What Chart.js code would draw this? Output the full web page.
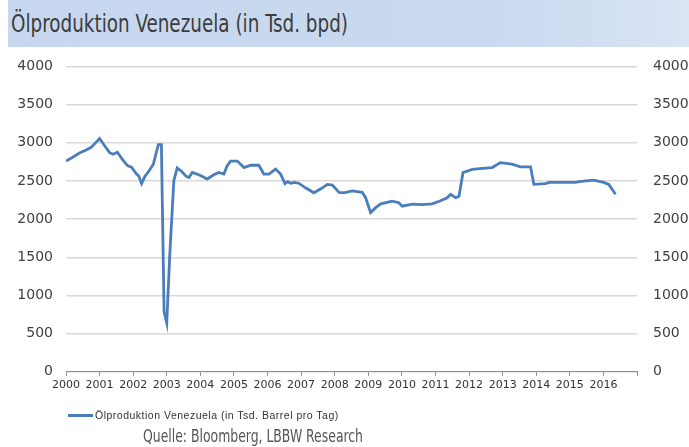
<!DOCTYPE html>
<html>
<head>
<meta charset="utf-8">
<script src="https://cdn.jsdelivr.net/npm/chart.js@4"></script>
<style>
  body { margin: 0; background: #fff; }
  #wrap { position: relative; width: 689px; height: 447px; overflow: hidden; }
  #chartBox { position: absolute; left: 0; top: 42px; width: 689px; height: 405px; }
  #title {
    position: absolute; left: 8px; top: 0; width: 681px; height: 47px;
    background: linear-gradient(to right, #c7d7ef 0%, #c9d9f0 70%, #d9e4f4 100%);
  }
  #titleText {
    position: absolute; left: 3px; top: 9px; white-space: nowrap; transform-origin: 0 0;
    font-family: "DejaVu Sans Condensed", "DejaVu Sans", sans-serif;
    font-size: 25px; color: #3c3c3c;
  }
  #legend {
    position: absolute; left: 68px; top: 408px; height: 14px;
    font-family: "Liberation Sans", Arial, sans-serif; font-size: 10.5px; letter-spacing: 0.5px; color: #333;
    display: flex; align-items: center; white-space: nowrap;
  }
  #legend span.line { display: inline-block; width: 25px; height: 3px; background: #4a7ebb; margin-right: 2px; }
  #source {
    position: absolute; left: 143px; top: 426px; white-space: nowrap; transform-origin: 0 0;
    font-family: "DejaVu Sans Condensed", "DejaVu Sans", sans-serif;
    font-size: 17px; color: #555;
  }
</style>
</head>
<body>
<div id="wrap">
  <div id="chartBox"><canvas id="oilChart"></canvas></div>
  <div id="title"><span id="titleText">Ölproduktion Venezuela (in Tsd. bpd)</span></div>
  <div id="legend"><span class="line"></span>Ölproduktion Venezuela (in Tsd. Barrel pro Tag)</div>
  <div id="source">Quelle: Bloomberg, LBBW Research</div>
</div>
<script>
// time in decimal years, production in thousand barrels per day
const years = [
  2000.00, 2000.20, 2000.40, 2000.60, 2000.75, 2000.85, 2001.00, 2001.15, 2001.30, 2001.40,
  2001.53, 2001.70, 2001.83, 2001.95, 2002.10, 2002.17, 2002.25, 2002.35, 2002.47, 2002.60,
  2002.75, 2002.84, 2002.92, 2003.00, 2003.09, 2003.21, 2003.31, 2003.45, 2003.58, 2003.66,
  2003.76, 2003.90, 2004.05, 2004.20, 2004.40, 2004.55, 2004.70, 2004.80, 2004.90, 2005.10,
  2005.30, 2005.50, 2005.74, 2005.89, 2006.04, 2006.24, 2006.39, 2006.52, 2006.60, 2006.69,
  2006.80, 2006.93, 2007.13, 2007.38, 2007.60, 2007.78, 2007.93, 2008.13, 2008.27, 2008.52,
  2008.82, 2008.92, 2009.07, 2009.22, 2009.37, 2009.71, 2009.91, 2010.01, 2010.31, 2010.60,
  2010.90, 2011.15, 2011.35, 2011.45, 2011.60, 2011.70, 2011.82, 2012.10, 2012.40, 2012.69,
  2012.93, 2013.28, 2013.53, 2013.83, 2013.93, 2014.28, 2014.38, 2015.17, 2015.27, 2015.71,
  2016.01, 2016.16, 2016.36
];
const production = [
  2760, 2810, 2865, 2905, 2940, 2985, 3055, 2960, 2870, 2850,
  2875, 2770, 2700, 2680, 2590, 2560, 2465, 2560, 2630, 2720,
  2975, 2975, 790, 640, 1540, 2500, 2670, 2620, 2560, 2545,
  2610, 2590, 2560, 2525, 2580, 2610, 2590, 2700, 2760, 2760,
  2675, 2705, 2705, 2590, 2590, 2655, 2590, 2465, 2490, 2470,
  2480, 2470, 2410, 2345, 2400, 2455, 2445, 2350, 2345, 2370,
  2350, 2280, 2085, 2150, 2200, 2235, 2215, 2170, 2195, 2190,
  2200, 2240, 2280, 2325, 2280, 2300, 2610, 2650, 2665, 2675,
  2740, 2720, 2685, 2685, 2455, 2465, 2480, 2480, 2490, 2510,
  2480, 2455, 2325
];
const seriesLabel = 'Ölproduktion Venezuela (in Tsd. Barrel pro Tag)';
const yTicks = [0, 500, 1000, 1500, 2000, 2500, 3000, 3500, 4000];
const xFirstYear = 2000, xLastYear = 2017;

// squeeze a text element to a target width (the original uses a narrow font)
function fitWidth(el, px) {
  const w = el.getBoundingClientRect().width;
  if (w > 0) el.style.transform = `scaleX(${px / w})`;
}
fitWidth(document.getElementById('titleText'), 337);
fitWidth(document.getElementById('source'), 220);

const points = years.map((t, i) => ({ x: t, y: production[i] }));

const tickFont = { family: 'DejaVu Sans', size: 14 };

new Chart(document.getElementById('oilChart'), {
  type: 'line',
  data: {
    datasets: [{
      label: seriesLabel,
      data: points,
      borderColor: '#4a7ebb',
      backgroundColor: '#4a7ebb',
      borderWidth: 2.8,
      pointRadius: 0,
      tension: 0
    }]
  },
  options: {
    responsive: true,
    maintainAspectRatio: false,
    animation: false,
    layout: { padding: { top: 0, bottom: 52, left: 0, right: 0 } },
    plugins: {
      legend: { display: false },
      tooltip: { enabled: false }
    },
    scales: {
      x: {
        type: 'linear',
        min: xFirstYear,
        max: xLastYear,
        grid: { drawOnChartArea: false, drawTicks: true, tickLength: 4, color: '#8c8c8c' },
        border: { color: '#8c8c8c', width: 1 },
        ticks: {
          stepSize: 1,
          padding: 3,
          maxRotation: 0,
          autoSkip: false,
          color: '#333',
          font: { family: 'DejaVu Sans', size: 11 },
          callback: v => (v >= xLastYear ? '' : String(v))
        }
      },
      y: {
        position: 'left',
        min: 0,
        max: 4000,
        afterBuildTicks: s => { s.ticks = yTicks.map(v => ({ value: v })); },
        afterFit: s => { s.width = 66; },
        grid: { color: '#d9d9d9', lineWidth: 1.5, drawTicks: false },
        border: { display: false },
        ticks: { padding: 13, color: '#404040', font: tickFont, callback: v => String(v) }
      },
      y2: {
        position: 'right',
        min: 0,
        max: 4000,
        afterBuildTicks: s => { s.ticks = yTicks.map(v => ({ value: v })); },
        afterFit: s => { s.width = 52; },
        grid: { display: false, drawTicks: false },
        border: { display: false },
        ticks: { padding: 16, color: '#404040', font: tickFont, callback: v => String(v) }
      }
    }
  }
});
</script>
</body>
</html>
